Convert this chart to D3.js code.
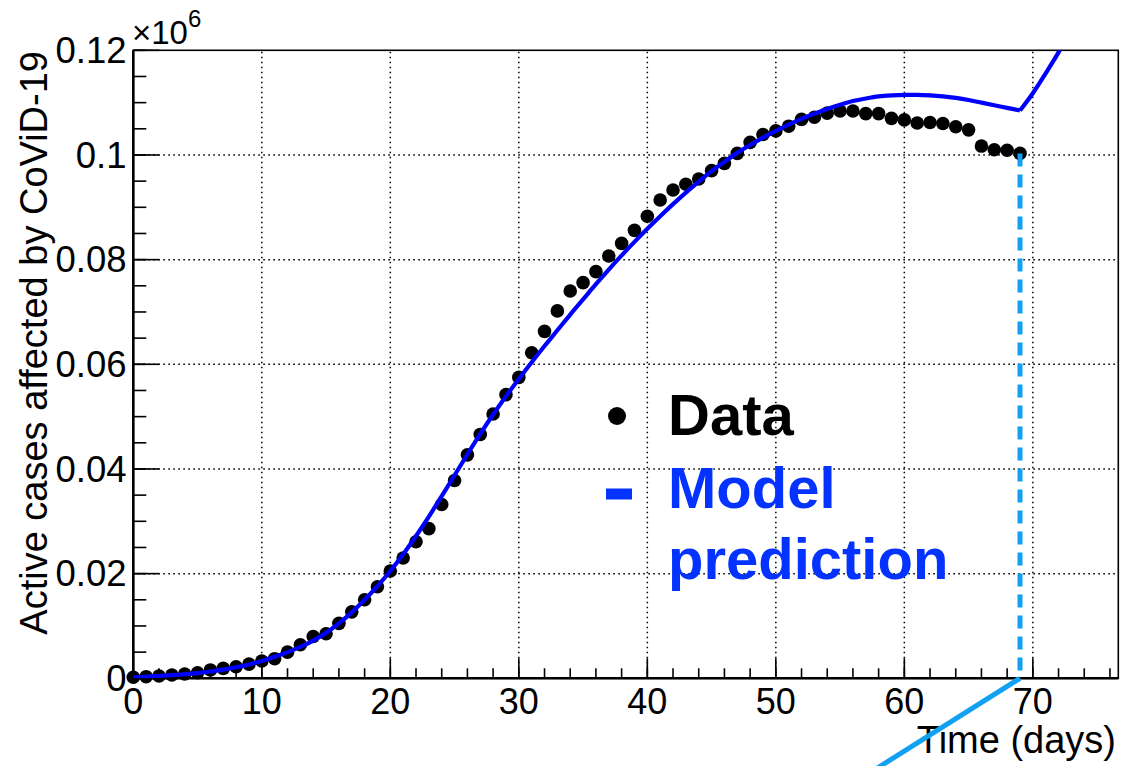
<!DOCTYPE html>
<html>
<head>
<meta charset="utf-8">
<script src="https://cdn.jsdelivr.net/npm/d3@7"></script>
<style>
  html, body { margin: 0; padding: 0; background: #fff; }
  svg { display: block; font-family: "Liberation Sans", Arial, Helvetica, sans-serif; }
</style>
</head>
<body>
<svg id="chart" width="1124" height="766"></svg>
<script>
// Active CoViD-19 cases per day since the first record
const days = d3.range(0, 70);
const activeCases = [
  200, 310, 440, 630, 820, 1070, 1600, 1900, 2200, 2700,
  3300, 3750, 5000, 6400, 8000, 8500, 10500, 12700, 15000, 17500,
  20500, 23000, 26100, 28600, 33200, 37800, 42700, 46600, 50500, 54200,
  57500, 62200, 66300, 70200, 74000, 75600, 77700, 80700, 83100, 85600,
  88300, 91400, 93300, 94400, 95400, 97000, 98400, 100300, 102400, 103900,
  104600, 105500, 106800, 107200, 108000, 108400, 108400, 107900, 107900, 107000,
  106700, 106100, 106200, 106000, 105400, 104800, 101700, 101000, 100900, 100300
];

// Model prediction, one value per day
const modelDays = d3.range(0, 74);
const modelCases = [
  200, 300, 450, 600, 800, 1000, 1300, 1650, 2100, 2650,
  3300, 4100, 5000, 6000, 7200, 8700, 10500, 12600, 15000, 17600,
  20500, 23700, 27200, 30900, 34800, 38800, 42800, 46700, 50400, 53900,
  57200, 60400, 63500, 66500, 69500, 72400, 75300, 78100, 80800, 83400,
  85900, 88300, 90600, 92800, 94900, 96900, 98700, 100400, 101900, 103300,
  104600, 105800, 106900, 107900, 108800, 109600, 110300, 110800, 111200, 111400,
  111500, 111500, 111400, 111200, 110900, 110500, 110000, 109500, 109000, 108500,
  111800, 115600, 119600, 124000
];
const modelBreakDay = 69;

// Last observed day, and the guide line drawn below the axis from it
const lastDay = 69;
const guideStart = [69, 0];
const guideEnd = [47, -34000];

// Axis ticks
const xMajorTicks = [0, 10, 20, 30, 40, 50, 60, 70];
const xMinorTicks = d3.range(0, 77, 2);
const yMajorTicks = [0, 20000, 40000, 60000, 80000, 100000, 120000];
const yMajorLabels = ["0", "0.02", "0.04", "0.06", "0.08", "0.1", "0.12"];
const yMinorTicks = d3.range(0, 120001, 5000);

const xTitle = "Time (days)";
const yTitle = "Active cases affected by CoViD-19";
const legendLabels = ["Data", "Model", "prediction"];

const blueLine = "#0000ff";
const blueText = "#0433ff";
const cyan = "#12a0f2";

const svg = d3.select("#chart");

const x = d3.scaleLinear().domain([0, 76.65]).range([133.3, 1118.3]);
const y = d3.scaleLinear().domain([0, 120000]).range([678.3, 50.3]);

const [x0, x1] = x.range();
const [yb, yt] = y.range();

svg.append("defs").append("clipPath").attr("id", "plot-clip")
  .append("rect").attr("x", x0).attr("y", yt).attr("width", x1 - x0).attr("height", yb - yt);

// dotted grid at major ticks
const grid = svg.append("g").attr("stroke", "#000").attr("stroke-width", 1.5)
  .attr("stroke-dasharray", "1.6,3.4");
grid.selectAll(".gx").data(xMajorTicks.filter(d => d > 0)).join("line")
  .attr("x1", d => x(d)).attr("x2", d => x(d)).attr("y1", yb).attr("y2", yt);
grid.selectAll(".gy").data(yMajorTicks.filter(d => d > 0 && d < 120000)).join("line")
  .attr("y1", d => y(d)).attr("y2", d => y(d)).attr("x1", x0).attr("x2", x1);

// frame
svg.append("rect").attr("x", x0).attr("y", yt).attr("width", x1 - x0).attr("height", yb - yt)
  .attr("fill", "none").attr("stroke", "#000").attr("stroke-width", 1.6);

// x axis
const xAxis = svg.append("g");
xAxis.append("line").attr("x1", x0).attr("x2", x1).attr("y1", yb).attr("y2", yb)
  .attr("stroke", "#000").attr("stroke-width", 2.6);
xAxis.selectAll(".xmin").data(xMinorTicks).join("line")
  .attr("x1", d => x(d)).attr("x2", d => x(d)).attr("y1", yb).attr("y2", yb - 10)
  .attr("stroke", "#000").attr("stroke-width", 1.6);
xAxis.selectAll(".xmaj").data(xMajorTicks).join("line")
  .attr("x1", d => x(d)).attr("x2", d => x(d)).attr("y1", yb).attr("y2", yb - 20)
  .attr("stroke", "#000").attr("stroke-width", 1.6);
xAxis.selectAll(".xlab").data(xMajorTicks).join("text")
  .attr("x", d => x(d)).attr("y", 714).attr("text-anchor", "middle")
  .attr("font-size", 36).attr("fill", "#000").text(d => d);

// y axis
const yAxis = svg.append("g");
yAxis.append("line").attr("x1", x0).attr("x2", x0).attr("y1", yb).attr("y2", yt)
  .attr("stroke", "#000").attr("stroke-width", 2.6);
yAxis.selectAll(".ymin").data(yMinorTicks).join("line")
  .attr("x1", x0).attr("x2", x0 + 13).attr("y1", d => y(d)).attr("y2", d => y(d))
  .attr("stroke", "#000").attr("stroke-width", 1.6);
yAxis.selectAll(".ymaj").data(yMajorTicks).join("line")
  .attr("x1", x0).attr("x2", x0 + 26).attr("y1", d => y(d)).attr("y2", d => y(d))
  .attr("stroke", "#000").attr("stroke-width", 1.6);
yAxis.selectAll(".ylab").data(yMajorTicks).join("text")
  .attr("x", 126.5).attr("y", d => y(d) + 12.8).attr("text-anchor", "end")
  .attr("font-size", 36.5).attr("fill", "#000").text((d, i) => yMajorLabels[i]);

// exponent
const expo = svg.append("text").attr("x", 132).attr("y", 44).attr("font-size", 33).attr("fill", "#000");
expo.append("tspan").text("\u00d710");
expo.append("tspan").attr("dy", -17).attr("font-size", 24).text("6");

// axis titles
svg.append("text").attr("x", 1116).attr("y", 753).attr("text-anchor", "end")
  .attr("font-size", 38).attr("fill", "#000").text(xTitle);
svg.append("text").attr("transform", "translate(47,51) rotate(-90)")
  .attr("text-anchor", "end").attr("font-size", 38).attr("fill", "#000").text(yTitle);

// data points
svg.append("g").selectAll("circle").data(days).join("circle")
  .attr("cx", d => x(d)).attr("cy", (d, i) => y(activeCases[i])).attr("r", 6.8).attr("fill", "#000");

// model curve, split where its trend changes
const line = d3.line().x(d => x(d[0])).y(d => y(d[1])).curve(d3.curveMonotoneX);
const modelPts = modelDays.map((d, i) => [d, modelCases[i]]);
const modelG = svg.append("g").attr("clip-path", "url(#plot-clip)");
modelG.append("path").datum(modelPts.filter(p => p[0] <= modelBreakDay)).attr("d", line)
  .attr("fill", "none").attr("stroke", blueLine).attr("stroke-width", 4.2);
modelG.append("path").datum(modelPts.filter(p => p[0] >= modelBreakDay)).attr("d", line)
  .attr("fill", "none").attr("stroke", blueLine).attr("stroke-width", 4.2);

// last-day marker: dashed drop line and guide line below the axis
svg.append("line").attr("x1", x(lastDay)).attr("x2", x(lastDay))
  .attr("y1", y(activeCases[lastDay])).attr("y2", y(0))
  .attr("stroke", cyan).attr("stroke-width", 5).attr("stroke-dasharray", "13,8");
svg.append("line").attr("x1", x(guideStart[0])).attr("y1", y(guideStart[1]))
  .attr("x2", x(guideEnd[0])).attr("y2", y(guideEnd[1]))
  .attr("stroke", cyan).attr("stroke-width", 5);

// legend
const leg = svg.append("g");
leg.append("circle").attr("cx", 617).attr("cy", 416).attr("r", 9).attr("fill", "#000");
leg.append("text").attr("x", 668).attr("y", 435).attr("font-size", 58).attr("font-weight", "bold")
  .attr("fill", "#000").text(legendLabels[0]);
leg.append("rect").attr("x", 606).attr("y", 488.5).attr("width", 26).attr("height", 11).attr("fill", blueText);
leg.append("text").attr("x", 668).attr("y", 508).attr("font-size", 58).attr("font-weight", "bold")
  .attr("fill", blueText).text(legendLabels[1]);
leg.append("text").attr("x", 668).attr("y", 579).attr("font-size", 58).attr("font-weight", "bold")
  .attr("fill", blueText).text(legendLabels[2]);
</script>
</body>
</html>
